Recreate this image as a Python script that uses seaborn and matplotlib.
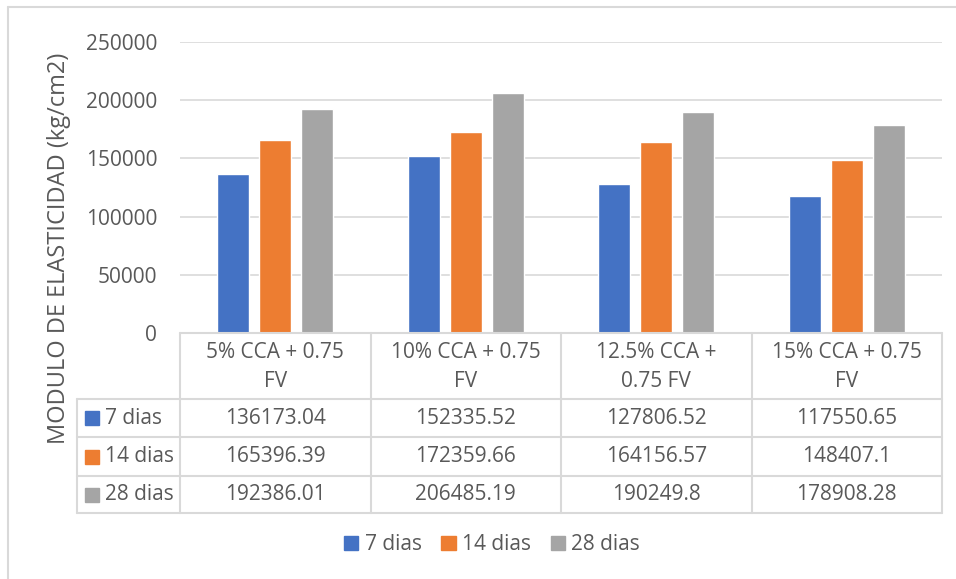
import textwrap
import matplotlib
matplotlib.use("Agg")
import matplotlib.pyplot as plt
from matplotlib.lines import Line2D
from matplotlib.patches import Rectangle
import pandas as pd
import seaborn as sns

# Mixes and curing ages
mezclas = ["5% CCA + 0.75 FV", "10% CCA + 0.75 FV", "12.5% CCA + 0.75 FV", "15% CCA + 0.75 FV"]
edades = ["7 dias", "14 dias", "28 dias"]
modulo_7 = [136173.04, 152335.52, 127806.52, 117550.65]
modulo_14 = [165396.39, 172359.66, 164156.57, 148407.1]
modulo_28 = [192386.01, 206485.19, 190249.8, 178908.28]
y_ticks = [0, 50000, 100000, 150000, 200000, 250000]
y_label = "MODULO DE ELASTICIDAD (kg/cm2)"
colores = ["#4472C4", "#ED7D31", "#A5A5A5"]

series = [modulo_7, modulo_14, modulo_28]
df = pd.DataFrame(
    [(m, e, v) for e, vals in zip(edades, series) for m, v in zip(mezclas, vals)],
    columns=["mezcla", "edad", "modulo"],
)

sns.set_theme(style="white")
plt.rcParams["font.family"] = ["Open Sans", "DejaVu Sans"]
TXT = "#595959"
GRID = "#D9D9D9"
FS = 15

W, H = 956, 579
fig = plt.figure(figsize=(W / 100, H / 100), dpi=100)
fig.patch.set_facecolor("white")


def fx(x):
    return x / W


def fy(y):
    return 1 - y / H


# plot area
left, right, top, bottom = 180, 942, 42, 333
ax = fig.add_axes([fx(left), fy(bottom), (right - left) / W, (bottom - top) / H])
sns.barplot(data=df, x="mezcla", y="modulo", hue="edad", order=mezclas,
            hue_order=edades, palette=colores, width=0.661, gap=0.238,
            saturation=1, legend=False, ax=ax, errorbar=None)
ax.set_ylim(0, 250000)
ax.set_xlim(-0.5, len(mezclas) - 0.5)
ax.set_yticks(y_ticks)
ax.set_yticklabels([str(t) for t in y_ticks], fontsize=FS, color=TXT)
ax.tick_params(axis="y", length=0, pad=16.5)
ax.set_xticks([])
ax.set_xlabel("")
ax.set_ylabel("")
for s in ax.spines.values():
    s.set_visible(False)
ax.yaxis.grid(True, color=GRID, lw=1.2)
ax.set_axisbelow(True)

fig.text(fx(59), fy(248), y_label, rotation=90, ha="center", va="center",
         fontsize=17, color=TXT)


def hline(x0, x1, y):
    fig.add_artist(Line2D([fx(x0), fx(x1)], [fy(y), fy(y)], color=GRID, lw=1.5))


def vline(x, y0, y1):
    fig.add_artist(Line2D([fx(x), fx(x)], [fy(y0), fy(y1)], color=GRID, lw=1.5))


# data table below the axis
col_x = [180, 370.5, 561, 751.5, 942]
row_y = [399, 437, 476, 513]
hline(180, 942, 333)
for y in row_y:
    hline(77, 942, y)
vline(77, 399, 513)
for x in col_x:
    vline(x, 333, 513)

for i, m in enumerate(mezclas):
    cx = (col_x[i] + col_x[i + 1]) / 2
    fig.text(fx(cx), fy(367), "\n".join(textwrap.wrap(m, 14)), ha="center",
             va="center", fontsize=FS, color=TXT, linespacing=1.45)
    for j, vals in enumerate(series):
        cy = (row_y[j] + row_y[j + 1]) / 2
        fig.text(fx(cx), fy(cy), repr(vals[i]), ha="center", va="center",
                 fontsize=FS, color=TXT)

for j, e in enumerate(edades):
    cy = (row_y[j] + row_y[j + 1]) / 2
    fig.add_artist(Rectangle((fx(85), fy(cy + 7)), 14 / W, 14 / H,
                             color=colores[j], transform=fig.transFigure))
    fig.text(fx(105), fy(cy), e, ha="left", va="center", fontsize=FS, color=TXT)

# legend
handles = [Rectangle((0, 0), 1, 1, color=c) for c in colores]
fig.legend(handles, edades, loc="center", bbox_to_anchor=(fx(492), fy(545)),
           ncol=3, frameon=False, fontsize=FS, labelcolor=TXT,
           handlelength=0.68, handleheight=0.68, handletextpad=0.3,
           columnspacing=0.95)

# chart frame
fig.add_artist(Line2D([fx(8), fx(8)], [fy(7), 0], color=GRID, lw=1.5))
fig.add_artist(Line2D([fx(8), 1], [fy(7), fy(7)], color=GRID, lw=1.5))

fig.savefig("out.png", dpi=100)
